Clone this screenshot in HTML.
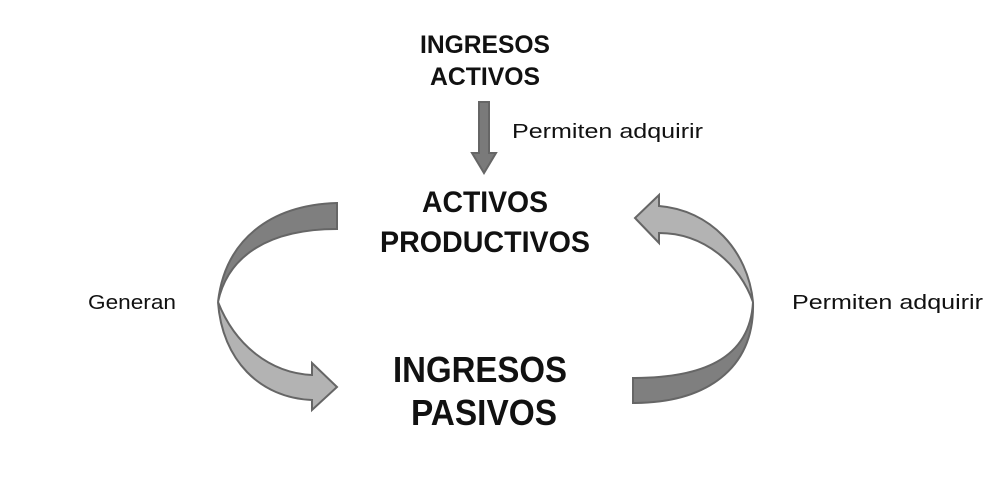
<!DOCTYPE html>
<html><head><meta charset="utf-8"><style>html,body{margin:0;padding:0;background:#fff}svg{display:block}</style></head>
<body>
<svg width="1000" height="500" viewBox="0 0 1000 500" xmlns="http://www.w3.org/2000/svg" font-family="Liberation Sans, sans-serif">
<rect width="1000" height="500" fill="#fff"/>
<g font-weight="bold" fill="#111" text-anchor="middle">
<text x="485" y="53" font-size="25" textLength="130" lengthAdjust="spacingAndGlyphs">INGRESOS</text>
<text x="485" y="85" font-size="25" textLength="110" lengthAdjust="spacingAndGlyphs">ACTIVOS</text>
<text x="485" y="212" font-size="30" textLength="126" lengthAdjust="spacingAndGlyphs">ACTIVOS</text>
<text x="485" y="252" font-size="30" textLength="210" lengthAdjust="spacingAndGlyphs">PRODUCTIVOS</text>
<text x="480" y="382" font-size="36" textLength="174" lengthAdjust="spacingAndGlyphs">INGRESOS</text>
<text x="484" y="425" font-size="36" textLength="146" lengthAdjust="spacingAndGlyphs">PASIVOS</text>
</g>
<g font-size="20" fill="#111">
<text x="512" y="138" textLength="191" lengthAdjust="spacingAndGlyphs">Permiten adquirir</text>
<text x="88" y="309" textLength="88" lengthAdjust="spacingAndGlyphs">Generan</text>
<text x="792" y="309" textLength="191" lengthAdjust="spacingAndGlyphs">Permiten adquirir</text>
</g>
<g stroke="#666" stroke-width="2" stroke-linejoin="miter">
<path d="M479,102 L489,102 L489,153 L496,153 L484,173 L472,153 L479,153 Z" fill="#7a7a7a"/>
<path d="M337,203 C270,205 225,240 218,302 C228,255 270,229 337,229 Z" fill="#7f7f7f"/>
<path d="M218,302 C222,360 260,398 312,400 L312,410 L337,387 L312,363 L312,375 C270,373 235,345 218,302 Z" fill="#b3b3b3"/>
<path d="M659,206 C710,210 748,250 753,302 C740,265 705,233 659,233 L659,243 L635,218 L659,195 Z" fill="#b3b3b3"/>
<path d="M753,302 C750,360 700,378 633,378 L633,403 C705,403 755,370 753,302 Z" fill="#7f7f7f"/>
</g>
</svg>
</body></html>
